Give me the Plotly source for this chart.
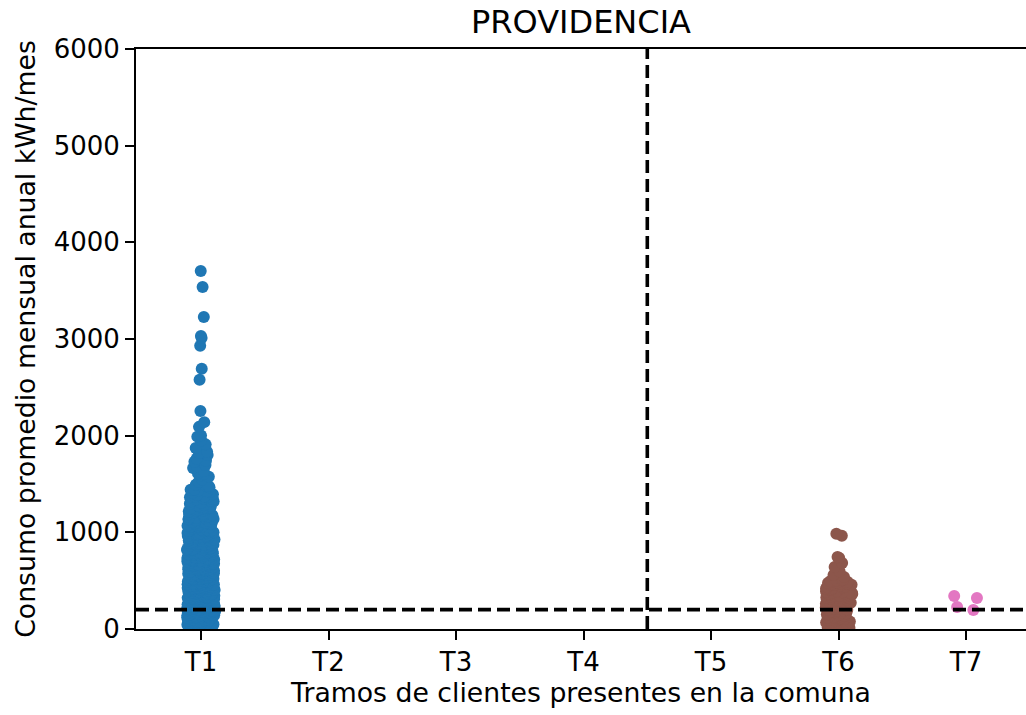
import plotly.graph_objects as go

# Tramos de clientes (eje categórico)
tramos = ["T1", "T2", "T3", "T4", "T5", "T6", "T7"]

# Consumo promedio mensual anual (kWh/mes) por cliente
consumo_t1 = [
    8, 15, 22, 31, 36, 44, 52, 58, 61, 67, 74, 79, 83, 90, 96, 99, 104, 111, 117, 120,
    126, 133, 137, 142, 148, 151, 157, 160, 166, 171, 175, 179, 184, 188, 193, 197, 201, 206, 209, 214,
    218, 223, 227, 231, 236, 240, 244, 249, 253, 258, 262, 265, 271, 274, 279, 283, 287, 292, 296, 301,
    305, 309, 314, 318, 322, 327, 331, 336, 339, 344, 349, 353, 358, 362, 366, 371, 376, 380, 385, 389,
    394, 399, 403, 408, 413, 418, 422, 427, 432, 437, 441, 446, 452, 457, 461, 466, 472, 477, 481, 487,
    492, 497, 503, 508, 514, 519, 524, 530, 535, 541, 547, 552, 558, 563, 569, 575, 581, 588, 593, 599,
    606, 612, 618, 624, 631, 637, 644, 651, 657, 664, 671, 678, 686, 693, 700, 708, 716, 724, 731, 739,
    748, 756, 765, 773, 782, 791, 800, 810, 819, 829, 839, 849, 860, 871, 882, 893, 905, 917, 929, 941,
    954, 967, 980, 994, 1008, 1022, 1037, 1052, 1068, 1083, 1099, 1116, 1133, 1150, 1168, 1186, 1205, 1224, 1243, 1263,
    1284, 1305, 1326, 1348, 1371, 1394, 1418, 1442, 1467, 1493, 1520, 1547, 1575, 1604, 1634, 1665, 1697, 1730, 1764, 1799,
    1835, 1872, 1910, 1949, 1990, 2003, 2091, 2140, 2255, 2578, 2692, 2930, 3010, 3032, 3228, 3538, 3704,
    45, 118, 167, 212, 256, 303, 351, 398, 447, 498, 549, 602, 653, 708, 761, 817, 872, 933, 996, 1062,
    28, 92, 141, 190, 233, 281, 326, 374, 421, 468, 516, 566, 617, 669, 722, 777, 834, 894, 958, 1029,
    70, 130, 182, 229, 276, 321, 368, 415, 463, 511, 560, 611, 663, 716, 770, 826, 885, 947, 1014, 1090,
    19, 85, 155, 245, 335, 425, 515, 605, 695, 785, 875, 1160, 1250, 1345, 1440, 1590, 1740, 1820,
    3, 11, 17, 26, 33, 40, 49, 56, 64, 69, 77, 86, 93, 98, 107, 113, 121, 128, 135, 144,
    149, 154, 162, 169, 173, 178, 186, 191, 195, 203, 207, 212, 217, 225, 229, 234, 239, 246, 251, 257,
    263, 268, 273, 278, 285, 290, 295, 299, 307, 312, 316, 320, 325, 333, 338, 342, 347, 355, 360, 364,
    369, 373, 378, 384, 391, 396, 401, 406, 411, 416, 420, 425, 430, 435, 439, 444, 449, 455, 459, 464,
    469, 474, 479, 485, 489, 494, 500, 506, 511, 516, 521, 527, 532, 538, 544, 550, 555, 561, 567, 572,
    578, 585, 590, 596, 603, 609, 615, 621, 628, 634, 640, 647, 654, 660, 667, 674, 681, 689, 697, 704,
    712, 719, 727, 735, 743, 752, 760, 768, 777, 786, 795, 804, 814, 823, 833, 844, 854, 865, 876, 887,
    902, 915, 926, 938, 951, 962, 975, 988, 1001, 1015, 1030, 1044, 1059, 1075, 1091, 1107, 1124, 1141, 1159, 1177,
    1196, 1215, 1234, 1254, 1275, 1296, 1318, 1340, 1362, 1385, 1409, 1433,
    910, 944, 979, 1018, 1057, 1097, 1139, 1181, 1227, 1272, 1322, 1371, 1425, 1480,
    54, 136, 222, 311, 402, 493, 584, 676, 768, 861, 957, 1054, 1152, 1258, 1366, 1478, 1612, 1683,
]

consumo_t6 = [
    6, 18, 27, 35, 46, 54, 62, 73, 81, 92, 101, 109, 118, 127, 138, 146, 155, 163, 174, 182,
    191, 199, 208, 219, 227, 236, 244, 253, 262, 271, 279, 288, 297, 305, 314, 323, 332, 341, 349, 358,
    367, 376, 385, 394, 403, 412, 421, 431, 440, 449, 458, 467, 476, 486, 495, 505,
    23, 68, 113, 150, 196, 240, 283, 327, 372, 418, 462, 498,
    10, 31, 50, 77, 96, 122, 142, 168, 187, 213, 232, 258, 276, 301, 319, 345, 363, 389, 408, 435,
    453, 480, 14, 58, 104, 160, 205, 249, 292, 338, 381, 427, 470, 512, 455, 380,
    538, 560, 598, 641, 683, 735, 745, 965, 985,
]

consumo_t7 = [197, 228, 320, 341]

# Umbral de consumo y separación entre grupos de tramos
umbral = 200
separacion = 3.5

COLOR_T1 = "#1f77b4"
COLOR_T6 = "#8c564b"
COLOR_T7 = "#e377c2"
FONT = "DejaVu Sans"


def strip(tramo, valores, color):
    """Nube de puntos con dispersión horizontal (caja invisible)."""
    return go.Box(
        x=[tramo] * len(valores),
        y=valores,
        boxpoints="all",
        jitter=1.0,
        pointpos=0,
        width=0.22,
        fillcolor="rgba(0,0,0,0)",
        line=dict(color="rgba(0,0,0,0)", width=0),
        marker=dict(color=color, size=12, line=dict(width=0)),
        whiskerwidth=0,
        showlegend=False,
        hoveron="points",
    )


fig = go.Figure()
fig.add_trace(strip("T1", consumo_t1, COLOR_T1))
fig.add_trace(strip("T6", consumo_t6, COLOR_T6))
fig.add_trace(strip("T7", consumo_t7, COLOR_T7))

# Línea horizontal del umbral y línea vertical de separación
fig.add_shape(
    type="line", xref="paper", x0=0, x1=1, yref="y", y0=umbral, y1=umbral,
    line=dict(color="black", width=3.6, dash="13px,6px"),
)
fig.add_shape(
    type="line", xref="x", x0=separacion, x1=separacion, yref="paper", y0=0, y1=1,
    line=dict(color="black", width=3.6, dash="13px,6px"),
)

fig.update_layout(
    width=1026,
    height=715,
    margin=dict(l=136, r=0, t=49, b=86),
    paper_bgcolor="white",
    plot_bgcolor="white",
    font=dict(family=FONT, size=26, color="black"),
    title=dict(
        text="PROVIDENCIA",
        x=0.5, xref="paper", xanchor="center",
        y=1 - 22 / 715, yref="container", yanchor="middle",
        font=dict(family=FONT, size=32, color="black"),
    ),
    xaxis=dict(
        type="category",
        categoryorder="array",
        categoryarray=tramos,
        tickvals=tramos,
        range=[-0.51, 6.47],
        showgrid=False,
        zeroline=False,
        showline=True,
        linecolor="black",
        linewidth=2,
        mirror=True,
        ticks="outside",
        ticklen=9,
        tickwidth=2,
        tickcolor="black",
        tickfont=dict(family=FONT, size=26),
        title=dict(text="Tramos de clientes presentes en la comuna",
                   font=dict(family=FONT, size=26.7), standoff=6),
    ),
    yaxis=dict(
        range=[0, 6000],
        tickvals=[0, 1000, 2000, 3000, 4000, 5000, 6000],
        showgrid=False,
        zeroline=False,
        showline=True,
        linecolor="black",
        linewidth=2,
        ticks="outside",
        ticklen=9,
        tickwidth=2,
        tickcolor="black",
        tickfont=dict(family=FONT, size=26),
        title=dict(text="Consumo promedio mensual anual kWh/mes",
                   font=dict(family=FONT, size=26.7), standoff=10),
    ),
)

fig.write_html("out.html")
